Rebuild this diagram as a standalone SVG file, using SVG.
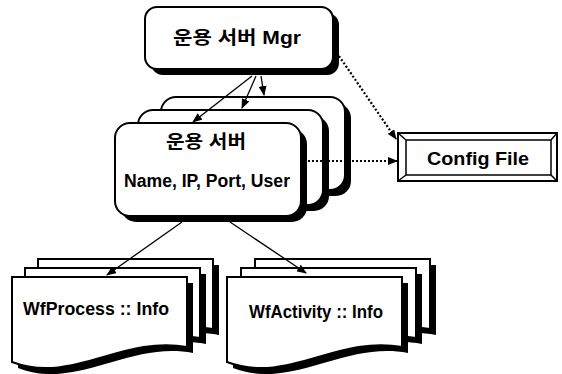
<svg xmlns="http://www.w3.org/2000/svg" xmlns:xlink="http://www.w3.org/1999/xlink" width="562" height="374" viewBox="0 0 562 374">
<style>
.box{fill:#fff;stroke:#000;stroke-width:2}
.sh{fill:#000}
.t{font-family:"Liberation Sans","Noto Sans CJK KR",sans-serif;font-weight:bold;font-size:18px;text-anchor:middle;fill:#000}
.solid{stroke:#000;stroke-width:1.3;fill:none}
.dot{stroke:#000;stroke-width:2.2;fill:none;stroke-dasharray:2 2}
</style>
<defs>
<path id="doc" d="M0,0 H175 V70 C110,58 60,108 0,85 Z"/>
<marker id="ah" markerWidth="10" markerHeight="8" refX="9" refY="4" orient="auto" markerUnits="userSpaceOnUse">
<path d="M0,0 L10,4 L0,8 Z" fill="#000"/>
</marker>
</defs>
<rect width="562" height="374" fill="#fff"/>

<g id="mgr">
<rect class="sh" x="151" y="13" width="188" height="62" rx="12"/>
<rect class="box" x="145" y="7" width="188" height="62" rx="12"/>
<text class="t" x="237" y="44" textLength="128" lengthAdjust="spacingAndGlyphs">운용 서버 Mgr</text>
</g>

<g id="server-back">
<rect class="sh" x="167" y="103" width="184" height="93" rx="15"/>
<rect class="box" x="161" y="97" width="184" height="93" rx="15"/>
</g>
<g id="server-mid">
<rect class="sh" x="144" y="116" width="185" height="95" rx="15"/>
<rect class="box" x="138" y="110" width="185" height="95" rx="15"/>
</g>
<g id="server">
<rect class="sh" x="121" y="129" width="186" height="93" rx="15"/>
<rect class="box" x="115" y="123" width="186" height="93" rx="15"/>
<text class="t" x="206" y="148" textLength="80" lengthAdjust="spacingAndGlyphs">운용 서버</text>
<text class="t" x="207" y="187" textLength="166" lengthAdjust="spacingAndGlyphs">Name, IP, Port, User</text>
</g>

<g id="config">
<rect class="box" x="398" y="133" width="159" height="48"/>
<rect fill="none" stroke="#000" stroke-width="1.5" x="406" y="140" width="145" height="35"/>
<path d="M398,133 L406,140 M557,133 L551,140 M398,181 L406,175 M557,181 L551,175" stroke="#000" stroke-width="1.5"/>
<text class="t" x="478" y="165" textLength="102" lengthAdjust="spacingAndGlyphs">Config File</text>
</g>

<g id="wfprocess">
<use href="#doc" x="44" y="265" class="sh"/>
<use href="#doc" x="38" y="259" class="box"/>
<use href="#doc" x="31" y="274" class="sh"/>
<use href="#doc" x="25" y="268" class="box"/>
<use href="#doc" x="18" y="283" class="sh"/>
<use href="#doc" x="12" y="277" class="box"/>
<text class="t" x="96" y="315" textLength="146" lengthAdjust="spacingAndGlyphs">WfProcess :: Info</text>
</g>

<g id="wfactivity">
<use href="#doc" x="261" y="265" class="sh"/>
<use href="#doc" x="255" y="259" class="box"/>
<use href="#doc" x="247" y="274" class="sh"/>
<use href="#doc" x="241" y="268" class="box"/>
<use href="#doc" x="233" y="283" class="sh"/>
<use href="#doc" x="227" y="277" class="box"/>
<text class="t" x="316" y="318" textLength="134" lengthAdjust="spacingAndGlyphs">WfActivity :: Info</text>
</g>

<g id="connectors">
<line class="solid" x1="252" y1="76" x2="193" y2="122" marker-end="url(#ah)"/>
<line class="solid" x1="256" y1="76" x2="242" y2="108" marker-end="url(#ah)"/>
<line class="solid" x1="261" y1="76" x2="264" y2="95" marker-end="url(#ah)"/>
<line class="solid" x1="182" y1="222" x2="107" y2="275" marker-end="url(#ah)"/>
<line class="solid" x1="230" y1="222" x2="306" y2="273" marker-end="url(#ah)"/>
<line class="dot" x1="339" y1="56" x2="396" y2="139" marker-end="url(#ah)"/>
<line class="dot" x1="308" y1="161" x2="397" y2="161" marker-end="url(#ah)"/>
</g>
</svg>
